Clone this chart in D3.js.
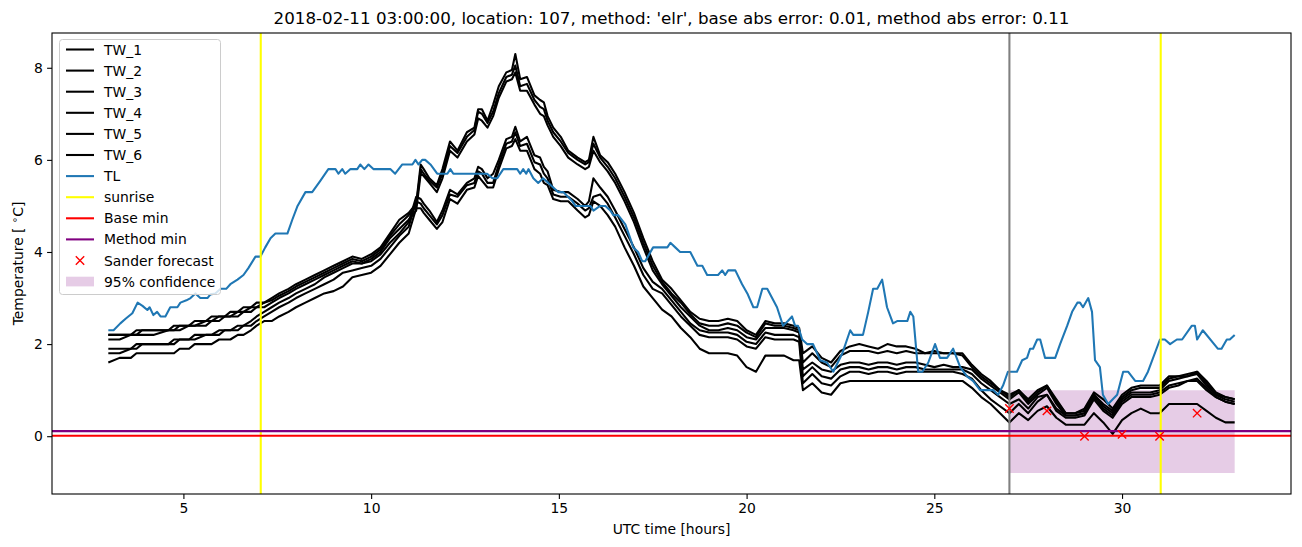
<!DOCTYPE html>
<html>
<head>
<meta charset="utf-8">
<script src="https://cdn.jsdelivr.net/npm/d3@7"></script>
<style>
  body { margin: 0; background: #fff; }
  svg { display: block; }
  text { font-family: "DejaVu Sans", sans-serif; fill: #000; }
</style>
</head>
<body>
<div class="canvas"></div>
<script>
/////////////////////////////////////////////////////
////////////// values /////////////
/////////////////////////////////////////////////////

// hours shared by the six TW series
const twHours = [3.0, 3.3, 3.6, 3.75, 3.9, 4.2, 4.6, 4.75, 4.9, 5.15, 5.3, 5.6, 5.75, 5.95, 6.1, 6.25, 6.45, 6.6, 6.8, 6.95, 7.15, 7.35, 7.55, 7.8, 8.0, 8.25, 8.5, 8.75, 9.0, 9.25, 9.5, 9.75, 10.0,
  10.25, 10.5, 10.75, 11.0, 11.2, 11.32, 11.4, 11.55, 11.75, 11.9, 12.1, 12.3, 12.55,
  12.75, 12.85, 12.95, 13.1, 13.25, 13.4, 13.6, 13.75, 13.84, 13.97, 14.15, 14.35, 14.5, 14.6, 14.7, 14.85, 15.05, 15.25, 15.5, 15.7, 15.8, 15.92, 16.1, 16.3, 16.5, 16.75, 17.0,
  17.25, 17.5, 17.75, 18.0, 18.25, 18.5, 18.75, 19.0, 19.25, 19.5, 19.75, 20.0, 20.25, 20.5, 20.75, 21.0, 21.25, 21.4,
  21.5, 21.75, 22.0, 22.25, 22.5, 22.75, 23.0, 23.25, 23.5, 23.75, 24.0, 24.25, 24.5, 24.75, 25.0, 25.25, 25.5, 25.75, 26.0, 26.25, 26.5, 26.75, 27.0,
  27.25, 27.5, 27.75, 28.0, 28.25, 28.5, 28.75, 29.0, 29.25, 29.5, 29.75, 30.0, 30.25, 30.5, 30.75, 31.0, 31.25, 31.5, 31.75, 32.0, 32.25, 32.5, 32.75, 33.0];

const tw1 = [2.2, 2.2, 2.2, 2.3, 2.3, 2.3, 2.3, 2.4, 2.4, 2.4, 2.5, 2.5, 2.6, 2.6, 2.6, 2.7, 2.7, 2.8, 2.8, 2.9, 2.9, 3.0, 3.1, 3.2, 3.3, 3.4, 3.5, 3.6, 3.7, 3.8, 3.9, 3.85, 3.95,
  4.1, 4.4, 4.7, 4.85, 5.05, 5.9, 5.8, 5.6, 5.45, 5.8, 6.4, 6.2, 6.6,
  6.7, 7.1, 7.1, 6.85, 7.2, 7.6, 7.9, 7.95, 8.3, 7.75, 7.8, 7.4, 7.3, 7.25, 6.95, 6.7, 6.5, 6.2, 6.05, 5.95, 6.0, 6.5, 6.1, 5.95, 5.7, 5.3, 4.85,
  4.3, 3.8, 3.4, 3.2, 2.95, 2.7, 2.55, 2.5, 2.5, 2.55, 2.5, 2.3, 2.2, 2.5, 2.45, 2.45, 2.4, 2.35,
  1.8, 1.95, 1.7, 1.6, 1.85, 1.95, 2.0, 1.95, 1.9, 2.0, 1.95, 1.95, 1.9, 1.8, 1.85, 1.8, 1.8, 1.8, 1.55, 1.35, 1.2, 1.0, 0.9,
  1.0, 0.8, 1.0, 1.1, 0.8, 0.5, 0.5, 0.6, 0.95, 0.8, 0.6, 0.9, 1.05, 1.1, 1.1, 1.1, 1.3, 1.3, 1.35, 1.4, 1.2, 0.95, 0.85, 0.8];

const tw2 = [2.2, 2.2, 2.2, 2.2, 2.3, 2.3, 2.3, 2.3, 2.4, 2.4, 2.4, 2.5, 2.5, 2.6, 2.6, 2.6, 2.7, 2.7, 2.8, 2.8, 2.9, 2.95, 3.05, 3.15, 3.25, 3.35, 3.45, 3.55, 3.65, 3.75, 3.85, 3.8, 3.9,
  4.05, 4.35, 4.6, 4.8, 5.0, 5.8, 5.7, 5.55, 5.4, 5.7, 6.3, 6.15, 6.5,
  6.65, 7.05, 7.0, 6.8, 7.05, 7.45, 7.8, 7.85, 8.05, 7.6, 7.65, 7.3, 7.15, 7.1, 6.85, 6.6, 6.4, 6.15, 6.0, 5.9, 5.95, 6.35, 6.05, 5.85, 5.6, 5.2, 4.75,
  4.2, 3.7, 3.35, 3.1, 2.9, 2.65, 2.45, 2.4, 2.4, 2.45, 2.4, 2.25, 2.15, 2.45, 2.4, 2.4, 2.35, 2.3,
  1.6, 1.8, 1.6, 1.5, 1.75, 1.85, 1.85, 1.85, 1.8, 1.85, 1.8, 1.85, 1.8, 1.8, 1.8, 1.8, 1.8, 1.75, 1.5, 1.3, 1.15, 1.0, 0.85,
  1.0, 0.75, 0.95, 1.1, 0.75, 0.5, 0.5, 0.55, 0.9, 0.7, 0.55, 0.85, 1.0, 1.05, 1.05, 1.05, 1.25, 1.3, 1.3, 1.4, 1.15, 0.9, 0.85, 0.8];

const tw3 = [2.1, 2.1, 2.2, 2.2, 2.2, 2.2, 2.3, 2.3, 2.3, 2.4, 2.4, 2.4, 2.5, 2.5, 2.6, 2.6, 2.6, 2.7, 2.7, 2.8, 2.8, 2.9, 3.0, 3.1, 3.2, 3.3, 3.4, 3.5, 3.6, 3.7, 3.8, 3.75, 3.85,
  4.0, 4.3, 4.5, 4.7, 4.9, 5.7, 5.65, 5.5, 5.3, 5.6, 6.2, 6.05, 6.4,
  6.55, 6.9, 6.85, 6.7, 6.95, 7.35, 7.7, 7.75, 7.9, 7.5, 7.5, 7.2, 7.0, 6.95, 6.75, 6.5, 6.3, 6.05, 5.9, 5.8, 5.85, 6.2, 5.95, 5.75, 5.5, 5.1, 4.65,
  4.1, 3.6, 3.3, 3.05, 2.8, 2.6, 2.4, 2.3, 2.3, 2.35, 2.3, 2.15, 2.1, 2.35, 2.35, 2.35, 2.3, 2.25,
  1.45, 1.6, 1.45, 1.4, 1.55, 1.6, 1.6, 1.55, 1.6, 1.6, 1.55, 1.6, 1.6, 1.55, 1.5, 1.55, 1.5, 1.5, 1.45, 1.25, 1.1, 0.95, 0.8,
  0.95, 0.7, 0.9, 1.05, 0.7, 0.45, 0.45, 0.5, 0.9, 0.65, 0.5, 0.8, 0.95, 0.95, 0.95, 1.0, 1.2, 1.25, 1.3, 1.35, 1.1, 0.9, 0.8, 0.75];

const tw4 = [1.9, 1.9, 1.9, 2.0, 2.0, 2.0, 2.0, 2.1, 2.1, 2.1, 2.2, 2.2, 2.2, 2.3, 2.3, 2.3, 2.4, 2.4, 2.5, 2.6, 2.7, 2.8, 2.9, 3.0, 3.1, 3.2, 3.3, 3.45, 3.55, 3.65, 3.75, 3.75, 3.8,
  3.95, 4.2, 4.4, 4.65, 5.2, 5.15, 5.05, 4.9, 4.65, 4.9, 5.35, 5.25, 5.5,
  5.6, 5.85, 5.8, 5.6, 5.7, 6.0, 6.45, 6.5, 6.72, 6.4, 6.5, 6.1, 6.05, 5.85, 5.75, 5.35, 5.3, 5.3, 5.15, 5.0, 5.1, 5.6, 5.4, 5.2, 4.9, 4.5, 4.1,
  3.65, 3.35, 3.2, 2.95, 2.7, 2.45, 2.3, 2.25, 2.25, 2.25, 2.2, 2.05, 2.0, 2.25, 2.2, 2.2, 2.2, 2.15,
  1.3, 1.5, 1.3, 1.25, 1.45, 1.5, 1.5, 1.45, 1.5, 1.5, 1.45, 1.5, 1.5, 1.45, 1.45, 1.45, 1.45, 1.45, 1.35, 1.15, 1.0, 0.85, 0.7,
  0.8, 0.6, 0.85, 0.9, 0.6, 0.45, 0.45, 0.5, 0.85, 0.6, 0.45, 0.75, 0.9, 0.9, 0.9, 0.95, 1.1, 1.15, 1.2, 1.25, 1.05, 0.85, 0.75, 0.7];

const tw5 = [1.8, 1.8, 1.9, 1.9, 2.0, 2.0, 2.0, 2.0, 2.1, 2.1, 2.1, 2.2, 2.2, 2.2, 2.3, 2.3, 2.3, 2.4, 2.4, 2.5, 2.6, 2.7, 2.8, 2.9, 3.0, 3.1, 3.2, 3.3, 3.4, 3.55, 3.6, 3.65, 3.7,
  3.85, 4.1, 4.35, 4.55, 5.1, 5.05, 4.95, 4.8, 4.6, 4.8, 5.25, 5.2, 5.45,
  5.5, 5.75, 5.7, 5.5, 5.5, 5.9, 6.35, 6.4, 6.6, 6.3, 6.35, 5.95, 5.9, 5.7, 5.6, 5.25, 5.2, 5.2, 5.05, 4.9, 4.95, 5.2, 5.25, 5.05, 4.75, 4.35, 3.95,
  3.5, 3.2, 3.1, 2.85, 2.6, 2.4, 2.2, 2.15, 2.15, 2.15, 2.1, 1.95, 1.9, 2.15, 2.1, 2.1, 2.1, 2.05,
  1.15, 1.35, 1.15, 1.1, 1.3, 1.4, 1.4, 1.35, 1.4, 1.4, 1.35, 1.4, 1.4, 1.4, 1.4, 1.4, 1.4, 1.35, 1.25, 1.0, 0.8, 0.65, 0.5,
  0.7, 0.5, 0.75, 0.9, 0.55, 0.4, 0.4, 0.45, 0.8, 0.55, 0.4, 0.7, 0.85, 0.85, 0.85, 0.9, 1.05, 1.1, 1.2, 1.2, 1.0, 0.85, 0.75, 0.7];

const tw6 = [1.6, 1.7, 1.7, 1.8, 1.8, 1.8, 1.8, 1.8, 1.9, 1.9, 2.0, 2.0, 2.0, 2.1, 2.1, 2.1, 2.2, 2.2, 2.3, 2.4, 2.5, 2.5, 2.6, 2.7, 2.8, 2.9, 3.0, 3.1, 3.15, 3.25, 3.45, 3.5, 3.55,
  3.7, 3.95, 4.2, 4.4, 4.95, 4.95, 4.85, 4.7, 4.5, 4.65, 5.15, 5.05, 5.35,
  5.4, 5.65, 5.55, 5.4, 5.4, 5.8, 6.25, 6.3, 6.45, 6.2, 6.2, 5.8, 5.7, 5.5, 5.45, 5.15, 5.1, 5.1, 4.9, 4.75, 4.8, 5.1, 5.0, 4.8, 4.55, 4.1, 3.7,
  3.25, 3.0, 2.75, 2.6, 2.35, 2.15, 1.9, 1.8, 1.8, 1.8, 1.75, 1.5, 1.4, 1.75, 1.75, 1.75, 1.65, 1.65,
  1.0, 1.15, 0.95, 0.9, 1.15, 1.2, 1.2, 1.2, 1.2, 1.2, 1.2, 1.2, 1.2, 1.2, 1.2, 1.2, 1.2, 1.2, 1.05, 0.85, 0.7, 0.5, 0.3,
  0.5, 0.35, 0.55, 0.65, 0.4, 0.25, 0.25, 0.25, 0.5, 0.3, 0.05, 0.35, 0.5, 0.6, 0.5, 0.5, 0.7, 0.7, 0.7, 0.7, 0.55, 0.4, 0.3, 0.3];

// TL as [hour, value] pairs
const tlSeries = [[3.0,2.3],[3.14,2.3],[3.32,2.45],[3.46,2.55],[3.64,2.67],[3.78,2.9],[3.91,2.83],[4.04,2.74],[4.1,2.8],[4.2,2.63],[4.3,2.7],[4.39,2.6],[4.52,2.6],[4.65,2.8],[4.84,2.8],[4.92,2.9],
  [5.08,2.95],[5.19,3.0],[5.32,3.1],[5.45,3.0],[5.64,3.0],[5.72,3.08],[5.85,3.1],[5.99,3.2],[6.14,3.2],[6.25,3.3],[6.44,3.4],[6.6,3.5],[6.73,3.65],[6.92,3.9],[7.05,3.9],[7.18,4.1],[7.32,4.3],
  [7.45,4.4],[7.77,4.4],[7.9,4.7],[8.04,5.0],[8.25,5.3],[8.43,5.3],[8.65,5.55],[8.86,5.8],[9.05,5.8],[9.13,5.7],[9.23,5.8],[9.31,5.7],[9.45,5.8],[9.63,5.8],[9.71,5.9],[9.82,5.8],[9.93,5.9],
  [10.06,5.8],[10.51,5.8],[10.64,5.7],[10.83,5.9],[11.1,5.9],[11.18,6.0],[11.26,5.9],[11.36,6.0],[11.44,6.0],[11.58,5.9],[11.76,5.7],[12.03,5.7],[12.11,5.8],[12.19,5.7],[13.09,5.7],[13.23,5.6],
  [13.36,5.6],[13.52,5.8],[13.89,5.8],[13.97,5.7],[14.05,5.8],[14.13,5.7],[14.19,5.8],[14.32,5.6],[14.45,5.5],[14.58,5.6],[14.72,5.5],[14.85,5.4],[14.98,5.3],[15.12,5.3],[15.36,5.1],[15.44,5.0],
  [15.84,5.0],[15.92,4.9],[16.1,5.0],[16.24,5.0],[16.37,4.9],[16.45,4.8],[16.58,4.8],[16.77,4.6],[16.9,4.3],[16.98,4.1],[17.11,4.0],[17.22,3.8],[17.3,3.8],[17.51,4.1],[17.89,4.1],[17.97,4.2],
  [18.1,4.1],[18.23,4.0],[18.5,4.0],[18.69,3.7],[18.82,3.7],[18.95,3.5],[19.24,3.5],[19.35,3.6],[19.43,3.5],[19.51,3.6],[19.7,3.6],[19.88,3.3],[20.02,3.1],[20.18,2.8],[20.28,2.8],[20.42,3.2],
  [20.55,3.2],[20.68,3.0],[20.81,2.8],[20.97,2.4],[21.1,2.5],[21.21,2.6],[21.29,2.4],[21.37,2.4],[21.48,2.1],[21.61,2.0],[21.77,2.0],[21.96,1.65],[22.14,1.6],[22.31,1.4],[22.55,1.8],[22.76,2.3],
  [22.84,2.2],[23.1,2.2],[23.24,2.7],[23.37,3.2],[23.48,3.2],[23.61,3.4],[23.74,2.8],[23.9,2.45],[24.01,2.5],[24.28,2.5],[24.36,2.7],[24.44,2.6],[24.57,1.4],[24.68,1.4],[24.84,1.6],[25.02,2.0],
  [25.15,1.7],[25.34,1.7],[25.5,1.9],[25.69,1.5],[25.87,1.3],[26.03,1.2],[26.22,1.0],[26.57,1.0],[26.7,0.9],[26.83,1.1],[26.96,1.4],[27.2,1.4],[27.34,1.65],[27.47,1.7],[27.55,1.9],[27.63,1.9],
  [27.74,2.1],[27.82,2.1],[27.95,1.7],[28.22,1.7],[28.35,2.0],[28.54,2.4],[28.67,2.7],[28.81,2.9],[28.88,2.9],[28.96,2.8],[29.1,3.0],[29.2,2.7],[29.28,1.65],[29.41,1.5],[29.49,0.9],[29.63,0.7],
  [29.87,0.9],[30.03,1.4],[30.16,1.4],[30.35,1.2],[30.56,1.2],[30.69,1.4],[31.01,2.1],[31.14,2.1],[31.28,2.0],[31.46,2.1],[31.6,2.1],[31.86,2.4],[31.94,2.4],[32.0,2.1],[32.15,2.3],[32.55,1.9],
  [32.65,1.9],[32.79,2.1],[32.87,2.1],[33.0,2.2]];

// Sander forecast points
const sanderHours = [27, 28, 29, 30, 31, 32];
const sanderValues = [0.6, 0.55, 0.0, 0.04, 0.0, 0.5];

// 95% confidence band
const confHours = [27, 33];
const confLow = [-0.8, -0.8];
const confHigh = [1.0, 1.0];

// reference lines
const sunriseHours = [7.06, 31.03];
const forecastStart = 27;
const baseMin = 0.01;
const methodMin = 0.11;

const xTicks = [5, 10, 15, 20, 25, 30];
const yTicks = [0, 2, 4, 6, 8];

const titleText = "2018-02-11 03:00:00, location: 107, method: 'elr', base abs error: 0.01, method abs error: 0.11";

/////////////////////////////////////////////////////
//////////////////// set up /////////////////////////
/////////////////////////////////////////////////////
const dims = { width: 1302, height: 547 };
const plot = { left: 52, right: 1291, top: 33, bottom: 494 };

const svg = d3.select('.canvas')
    .append('svg')
    .attr('width', dims.width)
    .attr('height', dims.height);

const x = d3.scaleLinear().domain([1.5, 34.5]).range([plot.left, plot.right]);
const y = d3.scaleLinear().domain([-1.255, 8.755]).range([plot.bottom, plot.top]);

svg.append('clipPath').attr('id', 'clip')
    .append('rect')
    .attr('x', plot.left).attr('y', plot.top)
    .attr('width', plot.right - plot.left).attr('height', plot.bottom - plot.top);

const graph = svg.append('g').attr('clip-path', 'url(#clip)');

const lw = 2.08; // 1.5pt at 100 dpi

// confidence band
const band = confHours.map((h, i) => ({ h, lo: confLow[i], hi: confHigh[i] }));
graph.append('path')
    .datum(band)
    .attr('fill', '#800080')
    .attr('fill-opacity', 0.2)
    .attr('d', d3.area().x(d => x(d.h)).y0(d => y(d.lo)).y1(d => y(d.hi)));

// TW series
const line = d3.line().x(d => x(d[0])).y(d => y(d[1]));
const twSeries = [tw1, tw2, tw3, tw4, tw5, tw6];
twSeries.forEach(vals => {
    const pts = twHours.map((h, i) => [h, vals[i]]).filter(d => d[1] !== undefined);
    graph.append('path')
        .datum(pts)
        .attr('fill', 'none')
        .attr('stroke', '#000')
        .attr('stroke-width', lw)
        .attr('stroke-linejoin', 'round')
        .attr('d', line);
});

// TL
graph.append('path')
    .datum(tlSeries)
    .attr('fill', 'none')
    .attr('stroke', '#1f77b4')
    .attr('stroke-width', lw)
    .attr('stroke-linejoin', 'round')
    .attr('d', line);

// forecast start (gray)
graph.append('line')
    .attr('x1', x(forecastStart)).attr('x2', x(forecastStart))
    .attr('y1', plot.top).attr('y2', plot.bottom)
    .attr('stroke', '#808080').attr('stroke-width', lw);

// sunrise
graph.selectAll('.sunrise')
    .data(sunriseHours)
    .enter().append('line')
    .attr('x1', d => x(d)).attr('x2', d => x(d))
    .attr('y1', plot.top).attr('y2', plot.bottom)
    .attr('stroke', '#ffff00').attr('stroke-width', lw);

// base / method min
[[baseMin, '#ff0000'], [methodMin, '#800080']].forEach(([v, c]) => {
    graph.append('line')
        .attr('x1', plot.left).attr('x2', plot.right)
        .attr('y1', y(v)).attr('y2', y(v))
        .attr('stroke', c).attr('stroke-width', lw);
});

// Sander forecast x markers
const ms = 4.2;
const xMark = (g, cx, cy) => {
    g.append('path')
        .attr('d', `M${cx - ms},${cy - ms}L${cx + ms},${cy + ms}M${cx - ms},${cy + ms}L${cx + ms},${cy - ms}`)
        .attr('stroke', '#ff0000').attr('stroke-width', 1.4).attr('fill', 'none');
};
sanderHours.forEach((h, i) => xMark(graph, x(h), y(sanderValues[i])));

/////////////////////////////////////////////////////
//////////////////// axes ///////////////////////////
/////////////////////////////////////////////////////
const xAxis = svg.append('g')
    .attr('transform', `translate(0, ${plot.bottom})`)
    .call(d3.axisBottom(x).tickValues(xTicks).tickSize(4.9).tickPadding(4.2).tickFormat(d3.format('d')));
const yAxis = svg.append('g')
    .attr('transform', `translate(${plot.left}, 0)`)
    .call(d3.axisLeft(y).tickValues(yTicks).tickSize(4.9).tickPadding(4.2).tickFormat(d3.format('d')));

[xAxis, yAxis].forEach(a => {
    a.select('.domain').remove();
    a.selectAll('line').attr('stroke', '#000').attr('stroke-width', 1.1);
    a.selectAll('text').attr('font-size', 13.9).attr('font-family', '"DejaVu Sans", sans-serif').attr('fill', '#000');
});

// spines
svg.append('rect')
    .attr('x', plot.left).attr('y', plot.top)
    .attr('width', plot.right - plot.left).attr('height', plot.bottom - plot.top)
    .attr('fill', 'none').attr('stroke', '#000').attr('stroke-width', 1.1);

// title and labels
const cx = (plot.left + plot.right) / 2;
svg.append('text')
    .attr('x', cx).attr('y', 24)
    .attr('text-anchor', 'middle')
    .attr('font-size', 16.7)
    .text(titleText);

svg.append('text')
    .attr('x', cx).attr('y', 534)
    .attr('text-anchor', 'middle')
    .attr('font-size', 13.9)
    .text('UTC time [hours]');

const yl = svg.append('text')
    .attr('transform', `translate(23, ${(plot.top + plot.bottom) / 2}) rotate(-90)`)
    .attr('text-anchor', 'middle')
    .attr('font-size', 13.9);
yl.append('tspan').text('Temperature [ ');
yl.append('tspan').attr('dy', -5).attr('font-size', 10).text('\u2218');
yl.append('tspan').attr('dy', 5).text('C]');

/////////////////////////////////////////////////////
//////////////////// legend /////////////////////////
/////////////////////////////////////////////////////
const legendItems = [
    { label: 'TW_1', kind: 'line', color: '#000' },
    { label: 'TW_2', kind: 'line', color: '#000' },
    { label: 'TW_3', kind: 'line', color: '#000' },
    { label: 'TW_4', kind: 'line', color: '#000' },
    { label: 'TW_5', kind: 'line', color: '#000' },
    { label: 'TW_6', kind: 'line', color: '#000' },
    { label: 'TL', kind: 'line', color: '#1f77b4' },
    { label: 'sunrise', kind: 'line', color: '#ffff00' },
    { label: 'Base min', kind: 'line', color: '#ff0000' },
    { label: 'Method min', kind: 'line', color: '#800080' },
    { label: 'Sander forecast', kind: 'marker', color: '#ff0000' },
    { label: '95% confidence', kind: 'patch', color: '#800080' }
];

const legend = svg.append('g');
legend.append('rect')
    .attr('x', 59.5).attr('y', 39.5)
    .attr('width', 161).attr('height', 255)
    .attr('rx', 3)
    .attr('fill', '#fff').attr('fill-opacity', 0.8)
    .attr('stroke', '#cccccc').attr('stroke-width', 1);

legendItems.forEach((item, i) => {
    const cy = 49.5 + i * 21.1;
    if (item.kind === 'line') {
        legend.append('line')
            .attr('x1', 66).attr('x2', 94).attr('y1', cy).attr('y2', cy)
            .attr('stroke', item.color).attr('stroke-width', lw);
    } else if (item.kind === 'marker') {
        xMark(legend, 80, cy);
    } else {
        legend.append('rect')
            .attr('x', 66).attr('y', cy - 4.9).attr('width', 28).attr('height', 9.7)
            .attr('fill', item.color).attr('fill-opacity', 0.2);
    }
    legend.append('text')
        .attr('x', 104).attr('y', cy)
        .attr('dy', '0.36em')
        .attr('font-size', 13.9)
        .text(item.label);
});
</script>
</body>
</html>
